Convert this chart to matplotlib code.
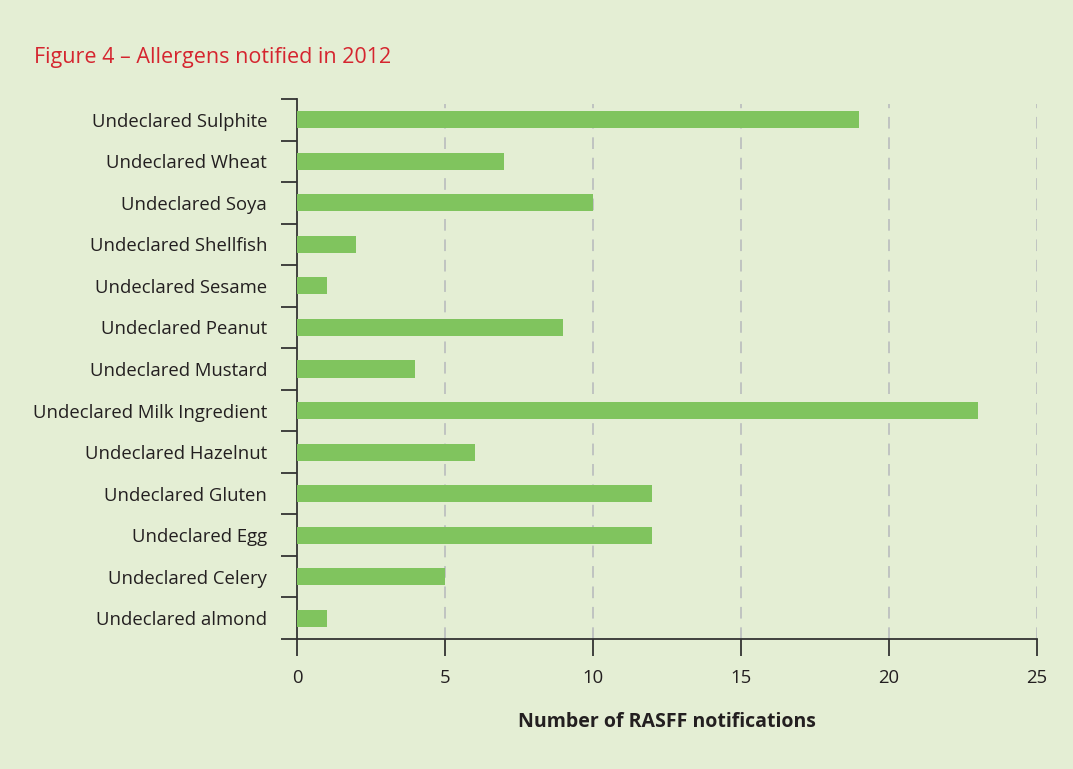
import matplotlib
matplotlib.use("Agg")
import matplotlib.pyplot as plt
import numpy as np

categories = ["Undeclared Sulphite", "Undeclared Wheat", "Undeclared Soya",
              "Undeclared Shellfish", "Undeclared Sesame", "Undeclared Peanut",
              "Undeclared Mustard", "Undeclared Milk Ingredient", "Undeclared Hazelnut",
              "Undeclared Gluten", "Undeclared Egg", "Undeclared Celery",
              "Undeclared almond"]
values = [19, 7, 10, 2, 1, 9, 4, 23, 6, 12, 12, 5, 1]
xticks = [0, 5, 10, 15, 20, 25]

BG = "#e4eed4"
BAR = "#80c45e"
TXT = "#231f20"
RED = "#d5252f"

plt.rcParams['font.family'] = ['Open Sans', 'DejaVu Sans']

fig = plt.figure(figsize=(10.73, 7.69), dpi=100, facecolor=BG)
ax = fig.add_axes([297/1073, 1-639/769, (1037-297)/1073, (639-99)/769])
ax.set_facecolor(BG)

n = len(categories)
ypos = np.arange(n)[::-1]
ax.barh(ypos, values, height=0.41, color=BAR, zorder=3)

ax.set_xlim(0, 25)
ax.set_ylim(-0.5, n - 0.5)

for x in xticks[1:]:
    ax.axvline(x, color="#bfc3c1", lw=1.4, ls=(0, (6, 4.5)), zorder=1, ymax=0.99)

for s in ["top", "right"]:
    ax.spines[s].set_visible(False)
for s in ["left", "bottom"]:
    ax.spines[s].set_color("#333333")
    ax.spines[s].set_linewidth(1.3)

ax.set_yticks(ypos)
ax.set_yticklabels(categories, fontsize=13.3, color=TXT)
ax.tick_params(axis='y', which='major', length=0, pad=21.5)
ax.set_yticks(np.arange(-0.5, n, 1.0), minor=True)
ax.tick_params(axis='y', which='minor', length=11.5, width=1.3, color="#333333")

ax.set_xticks(xticks)
ax.set_xticklabels([str(t) for t in xticks], fontsize=13.3, color=TXT)
ax.tick_params(axis='x', which='major', length=12.5, width=1.3, color="#333333",
               pad=9, direction='out')

ax.set_xlabel("Number of RASFF notifications", fontsize=14, fontweight='bold',
              color=TXT, labelpad=18)

fig.text(34/1073, 1-58/769, "Figure 4 \u2013 Allergens notified in 2012",
         fontsize=15.5, color=RED, ha='left', va='center')

fig.savefig("out.png", dpi=100, facecolor=BG)
